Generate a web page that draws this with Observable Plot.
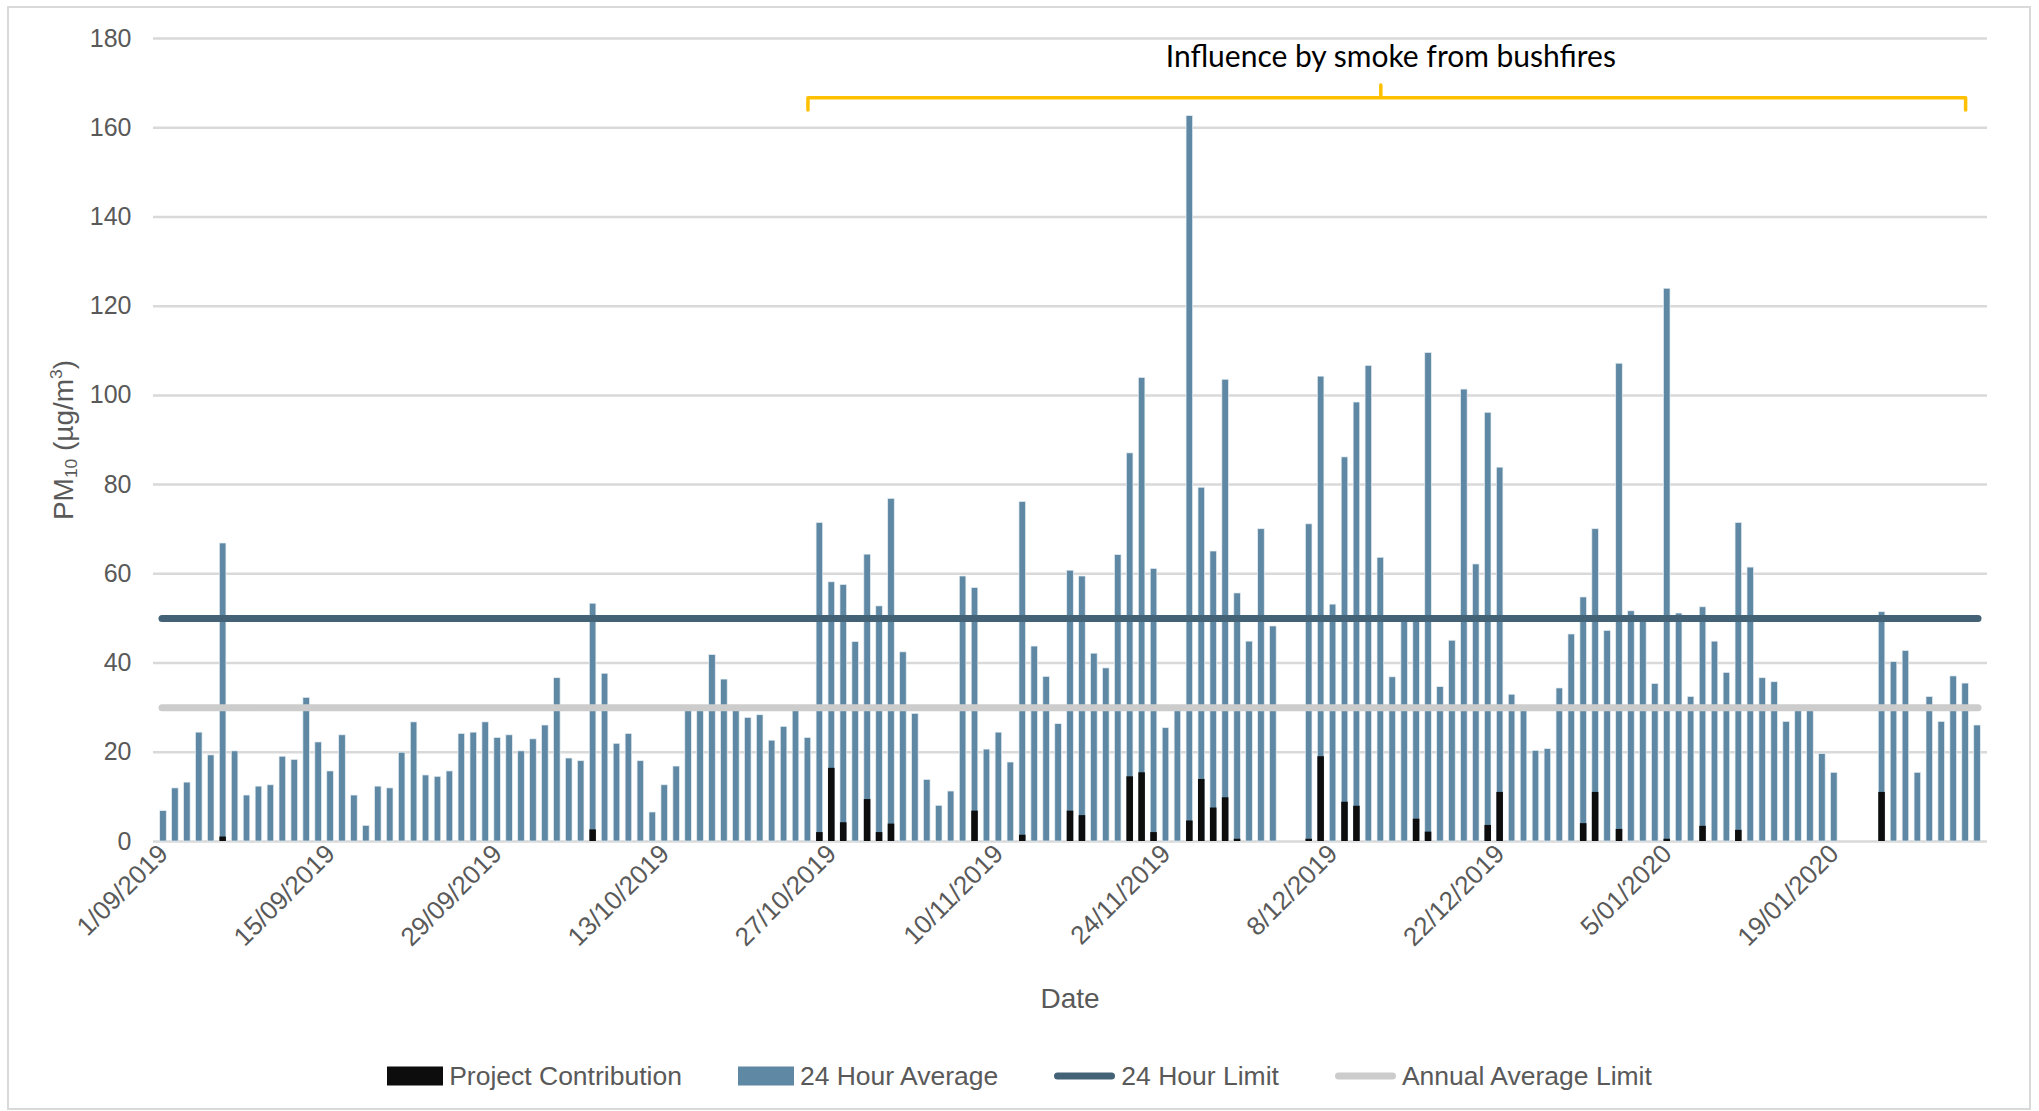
<!DOCTYPE html>
<html>
<head>
<meta charset="utf-8">
<script src="https://cdn.jsdelivr.net/npm/d3@7"></script>
<script src="https://cdn.jsdelivr.net/npm/@observablehq/plot@0.6"></script>
<style>
  html, body { margin: 0; padding: 0; background: #ffffff; }
  body { width: 2039px; height: 1111px; position: relative; overflow: hidden; font-family: "Liberation Sans", Arial, sans-serif; }
  #frame { position: absolute; left: 7px; top: 6px; width: 2024px; height: 1104px; border: 2px solid #d9d9d9; box-sizing: border-box; }
  #chart { position: absolute; left: 0; top: 0; }
  #ytitle { position: absolute; left: 64px; top: 440px; transform: translate(-50%, -50%) rotate(-90deg); font-size: 28px; color: #595959; white-space: nowrap; }
  #ytitle .sub { font-size: 0.62em; vertical-align: -0.25em; }
  #ytitle .sup { font-size: 0.62em; vertical-align: 0.6em; }
  #xtitle { position: absolute; left: 1070px; top: 999px; transform: translate(-50%, -50%); font-size: 28px; color: #595959; }
  #legend { position: absolute; left: 0; top: 1076px; width: 2039px; transform: translateY(-50%); display: flex; justify-content: center; align-items: center; font-size: 26.5px; color: #595959; }
  .item { display: flex; align-items: center; margin: 0 28px; }
  .sw { display: inline-block; margin-right: 6px; }
  .rect { width: 56px; height: 19px; }
  .line { width: 61px; height: 7px; border-radius: 4px; }
</style>
</head>
<body>
<div id="frame"></div>
<div id="chart"></div>
<div id="ytitle">PM<span class="sub">10</span> (µg/m<span class="sup">3</span>)</div>
<div id="xtitle">Date</div>
<div id="legend"></div>
<script>
// ---- Data: 24 hour average PM10 (µg/m³) per day ----
const sepAvg = [6.8, 11.9, 13.2, 24.4, 19.3, 66.8, 20.2, 10.3, 12.3, 12.6,
                19.0, 18.3, 32.2, 22.2, 15.7, 23.8, 10.3, 3.5, 12.3, 11.9,
                19.9, 26.7, 14.8, 14.5, 15.7, 24.1, 24.4, 26.7, 23.2, 23.8];
const octAvg = [20.2, 22.9, 26.0, 36.6, 18.6, 18.0, 53.3, 37.6, 21.9, 24.1,
                18.0, 6.5, 12.6, 16.8, 29.5, 29.5, 41.8, 36.3, 29.3, 27.7,
                28.3, 22.6, 25.7, 29.3, 23.2, 71.4, 58.1, 57.5, 44.7, 64.3, 52.7];
const novAvg = [76.8, 42.4, 28.6, 13.8, 8.0, 11.2, 59.4, 56.8, 20.6, 24.4,
                17.7, 76.1, 43.7, 36.9, 26.3, 60.7, 59.4, 42.1, 38.8, 64.2,
                87.0, 103.9, 61.1, 25.4, 29.5, 162.6, 79.3, 65.0, 103.5, 55.6];
const decAvg = [44.8, 70.0, 48.2, null, null, 71.1, 104.2, 53.1, 86.1, 98.4,
                106.6, 63.6, 36.8, 49.5, 49.5, 109.5, 34.6, 45.0, 101.3, 62.1,
                96.1, 83.8, 32.9, 29.4, 20.3, 20.7, 34.3, 46.4, 54.7, 70.0, 47.2];
const janAvg = [107.1, 51.6, 49.3, 35.3, 123.9, 51.1, 32.4, 52.5, 44.8, 37.8,
                71.4, 61.4, 36.6, 35.7, 26.8, 29.3, 29.3, 19.6, 15.4, null,
                null, null, 51.4, 40.2, 42.7, 15.4, 32.4, 26.8, 37.0, 35.4, 26.0];

// ---- Data: project contribution per day ----
const sepProj = [0, 0, 0, 0, 0, 1.0, 0, 0, 0, 0,
                 0, 0, 0, 0, 0, 0, 0, 0, 0, 0,
                 0, 0, 0, 0, 0, 0, 0, 0, 0, 0];
const octProj = [0, 0, 0, 0, 0, 0, 2.6, 0, 0, 0,
                 0, 0, 0, 0, 0, 0, 0, 0, 0, 0,
                 0, 0, 0, 0, 0, 2.0, 16.4, 4.2, 0, 9.4, 2.0];
const novProj = [3.9, 0, 0, 0, 0, 0, 0, 6.8, 0, 0,
                 0, 1.4, 0, 0, 0, 6.8, 5.8, 0, 0, 0,
                 14.5, 15.4, 2.0, 0, 0, 4.6, 13.9, 7.5, 9.8, 0.5];
const decProj = [0, 0, 0, 0, 0, 0.5, 19.0, 0, 8.8, 7.9,
                 0, 0, 0, 0, 5.0, 2.1, 0, 0, 0, 0,
                 3.6, 11.0, 0, 0, 0, 0, 0, 0, 4.0, 11.0, 0];
const janProj = [2.7, 0, 0, 0, 0.5, 0, 0, 3.4, 0, 0,
                 2.5, 0, 0, 0, 0, 0, 0, 0, 0, 0,
                 0, 0, 11.0, 0, 0, 0, 0, 0, 0, 0, 0];

// ---- Limits, ticks, labels ----
const dailyLimit = 50;
const annualLimit = 30;
const yTicks = [0, 20, 40, 60, 80, 100, 120, 140, 160, 180];
const xTickLabels = ["1/09/2019", "15/09/2019", "29/09/2019", "13/10/2019", "27/10/2019",
                     "10/11/2019", "24/11/2019", "8/12/2019", "22/12/2019", "5/01/2020", "19/01/2020"];
const seriesNames = ["Project Contribution", "24 Hour Average", "24 Hour Limit", "Annual Average Limit"];
const seriesColors = ["#0d0d0d", "#5e88a3", "#446276", "#cccccc"];

// Annotation bracket (dates + levels in data units)
const annotationText = "Influence by smoke from bushfires";
const bracketDates = ["25/10/2019", "25/10/2019", "12/12/2019", "12/12/2019", "12/12/2019", "30/01/2020", "30/01/2020"];
const bracketLevels = [164.0, 166.7, 166.7, 169.6, 166.7, 166.7, 164.0];
const annotationDate = "12/12/2019";
const annotationLevel = 175.7;

// ---- Build table ----
const fmt = d3.utcFormat("%-d/%m/%Y");
const days = d3.utcDay.range(new Date(Date.UTC(2019, 8, 1)), new Date(Date.UTC(2020, 1, 1)));
const avg = [...sepAvg, ...octAvg, ...novAvg, ...decAvg, ...janAvg];
const proj = [...sepProj, ...octProj, ...novProj, ...decProj, ...janProj];
const rows = days.map((d, i) => ({date: fmt(d), avg: avg[i], proj: proj[i]}));
const domain = rows.map(r => r.date);
const bracket = bracketDates.map((d, i) => ({date: d, v: bracketLevels[i]}));

const chart = Plot.plot({
  width: 2039,
  height: 1000,
  marginTop: 38,
  marginBottom: 159,
  marginLeft: 157,
  marginRight: 56,
  style: {fontFamily: "'Liberation Sans', Arial, sans-serif", fontSize: "25px", color: "#595959", background: "transparent", overflow: "visible"},
  x: {type: "band", domain, paddingInner: 0.45, paddingOuter: 0.225, label: null},
  y: {domain: [0, 180], label: null},
  marks: [
    Plot.gridY(yTicks, {stroke: "#d9d9d9", strokeOpacity: 1, strokeWidth: 2.5, insetLeft: -4, insetRight: -4}),
    Plot.axisY(yTicks, {tickSize: 0, tickPadding: 26, fontSize: 25, fill: "#595959", label: null}),
    Plot.axisX(xTickLabels, {tickSize: 0, tickPadding: 8, tickRotate: -45, fontSize: 26, fill: "#595959", label: null}),
    Plot.barY(rows.filter(r => r.avg != null), {x: "date", y: "avg", fill: seriesColors[1], stroke: "#e6edf2", strokeWidth: 0.7}),
    Plot.barY(rows.filter(r => r.proj > 0), {x: "date", y: "proj", fill: seriesColors[0]}),
    Plot.ruleY([annualLimit], {stroke: seriesColors[3], strokeWidth: 7, strokeLinecap: "round", insetLeft: 5, insetRight: 5}),
    Plot.ruleY([dailyLimit], {stroke: seriesColors[2], strokeWidth: 7, strokeLinecap: "round", insetLeft: 5, insetRight: 5}),
    Plot.line(bracket, {x: "date", y: "v", stroke: "#ffc000", strokeWidth: 3.5, strokeLinejoin: "round", strokeLinecap: "round"}),
    Plot.text([annotationText], {x: () => annotationDate, y: () => annotationLevel, text: d => d, dx: 10, fontSize: 30, fill: "#000000", fontFamily: "Lato, 'Open Sans', sans-serif"})
  ]
});
document.getElementById("chart").appendChild(chart);

// ---- Legend ----
const legend = document.getElementById("legend");
seriesNames.forEach((name, i) => {
  const item = document.createElement("div");
  item.className = "item";
  const sw = document.createElement("span");
  sw.className = "sw " + (i < 2 ? "rect" : "line");
  sw.style.background = seriesColors[i];
  const t = document.createElement("span");
  t.textContent = name;
  item.appendChild(sw);
  item.appendChild(t);
  legend.appendChild(item);
});
</script>
</body>
</html>
